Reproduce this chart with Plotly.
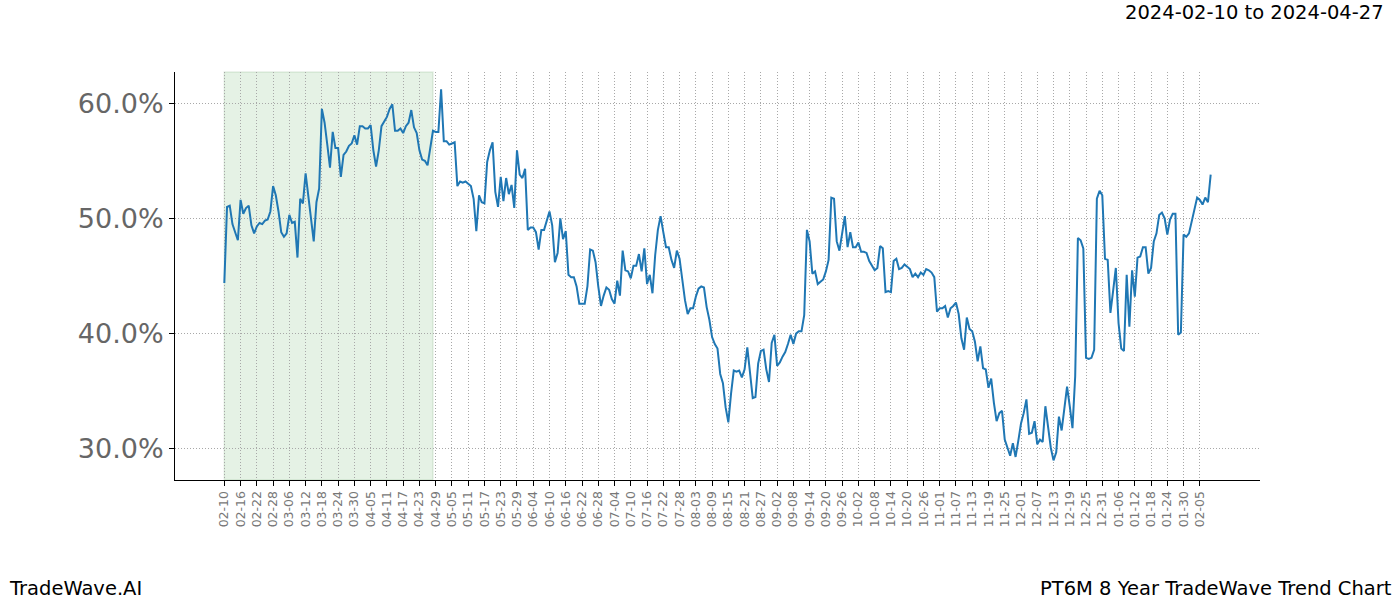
import pandas as pd
import plotly.graph_objects as go

# calendar used by the x axis (non-leap span: 02-28 -> 03-06 in tick labels)
start_date = "2023-02-10"
highlight_start = "2023-02-10"
highlight_end = "2023-04-28"
title_text = "2024-02-10 to 2024-04-27"

values = [
    44.4, 51.0, 51.1, 49.5, 48.8, 48.1, 51.6, 50.4, 50.9, 51.1,
    49.4, 48.7, 49.3, 49.6, 49.5, 49.8, 49.9, 50.6, 52.8, 52.0,
    50.6, 48.8, 48.4, 48.7, 50.3, 49.6, 49.7, 46.6, 51.7, 51.3,
    53.9, 51.9, 49.9, 48.0, 51.4, 52.6, 59.5, 58.3, 56.4, 54.4,
    57.5, 56.1, 56.1, 53.6, 55.5, 55.8, 56.3, 56.5, 57.2, 56.4,
    58.0, 58.0, 57.8, 57.8, 58.1, 55.9, 54.5, 55.9, 58.0, 58.4,
    58.8, 59.5, 59.9, 57.6, 57.6, 57.8, 57.4, 58.0, 58.3, 59.4,
    57.9, 57.4, 55.9, 55.1, 55.0, 54.6, 56.2, 57.6, 57.5, 57.5,
    61.2, 56.7, 56.7, 56.4, 56.5, 56.6, 52.8, 53.2, 53.1, 53.2,
    53.0, 52.8, 51.7, 48.9, 52.0, 51.4, 51.3, 54.9, 55.9, 56.6,
    52.3, 51.0, 53.6, 51.5, 53.5, 52.1, 52.9, 50.9, 55.9, 53.8,
    53.5, 54.3, 49.0, 49.2, 49.2, 48.8, 47.3, 49.0, 49.0, 49.9,
    50.6, 49.4, 46.2, 47.0, 50.0, 48.2, 48.9, 45.1, 44.9, 44.9,
    44.1, 42.6, 42.6, 42.6, 44.1, 47.3, 47.2, 46.2, 44.1, 42.4,
    43.3, 44.0, 43.8, 43.0, 42.6, 44.6, 43.3, 47.2, 45.5, 45.4,
    44.8, 45.9, 45.9, 46.9, 45.4, 47.4, 44.3, 45.1, 43.5, 46.8,
    49.0, 50.2, 48.8, 47.5, 47.5, 46.4, 45.7, 47.2, 46.5, 44.6,
    42.9, 41.7, 42.2, 42.2, 43.2, 43.9, 44.1, 44.0, 42.3, 41.2,
    39.7, 39.1, 38.7, 36.5, 35.7, 33.6, 32.3, 34.8, 36.8, 36.7,
    36.8, 36.2, 36.9, 38.8, 36.5, 34.4, 34.5, 37.4, 38.5, 38.6,
    36.9, 35.8, 39.2, 39.9, 37.2, 37.5, 38.0, 38.4, 39.1, 39.9,
    39.1, 40.0, 40.2, 40.2, 41.6, 49.0, 48.0, 45.2, 45.4, 44.3,
    44.5, 44.7, 45.4, 46.4, 51.8, 51.7, 48.0, 47.2, 48.7, 50.2,
    47.5, 48.8, 47.5, 47.5, 47.9, 47.1, 47.1, 47.0, 46.3, 45.9,
    45.5, 45.7, 47.6, 47.4, 43.6, 43.7, 43.6, 46.3, 46.5, 45.6,
    45.7, 46.0, 45.8, 45.6, 44.9, 45.2, 44.9, 45.3, 45.1, 45.6,
    45.5, 45.3, 44.9, 41.9, 42.2, 42.2, 42.4, 41.4, 42.2, 42.4,
    42.7, 41.7, 39.6, 38.6, 41.4, 40.4, 40.2, 39.3, 37.6, 38.9,
    37.0, 36.9, 35.3, 36.1, 34.0, 32.4, 33.1, 33.3, 30.8, 30.0,
    29.4, 30.5, 29.3, 30.7, 32.2, 33.1, 34.3, 31.3, 31.4, 32.4,
    30.4, 30.8, 30.6, 33.7, 32.0, 30.1, 29.0, 29.7, 32.8, 31.6,
    33.5, 35.4, 33.7, 31.8, 36.3, 48.3, 48.1, 47.4, 37.9, 37.8,
    37.9, 38.6, 51.7, 52.4, 52.0, 46.5, 46.4, 41.8, 43.7, 45.7,
    40.9, 38.7, 38.5, 45.1, 40.6, 45.5, 43.2, 46.6, 46.7, 47.5,
    47.5, 45.2, 45.7, 48.0, 48.7, 50.3, 50.5, 50.0, 48.6, 49.9,
    50.4, 50.4, 39.9, 40.1, 48.6, 48.4, 48.7, 49.7, 50.8, 51.8,
    51.6, 51.2, 51.8, 51.4, 53.8,
]

y_ticks = [30, 40, 50, 60]

dates = pd.date_range(start_date, periods=len(values), freq="D")
tick_dates = pd.date_range(start_date, dates[-1], freq="6D")
tick_text = [d.strftime("%m-%d") for d in tick_dates]

pad = (dates[-1] - dates[0]) * 0.05
x_range = [dates[0] - pad, dates[-1] + pad]

W, H = 1400, 600
L, R, T, B = 175, 1260, 72, 480
pw, ph = R - L, B - T

fig = go.Figure()
fig.add_vrect(x0=highlight_start, x1=highlight_end, fillcolor="rgba(0,128,0,0.1)",
              line=dict(color="rgba(0,100,0,0.10)", width=1.5), layer="below")
fig.add_trace(go.Scatter(x=dates, y=values, mode="lines",
                         line=dict(color="#1f77b4", width=2), showlegend=False))

grid = dict(showgrid=True, gridcolor="#a8a8a8", griddash="1px,2px", gridwidth=0.8)

fig.update_layout(
    width=W, height=H,
    margin=dict(l=L, r=W - R, t=T, b=H - B),
    paper_bgcolor="white", plot_bgcolor="white",
    font=dict(family="DejaVu Sans"),
    xaxis=dict(
        range=x_range, tickmode="array", tickvals=tick_dates, ticktext=tick_text,
        tickangle=-90, tickfont=dict(size=12.5, color="#777777"),
        showline=True, linecolor="black", linewidth=1,
        ticks="outside", ticklen=5, tickcolor="black", zeroline=False, **grid,
    ),
    yaxis=dict(
        range=[27.3, 62.7], tickmode="array", tickvals=y_ticks,
        ticktext=[f"{v:.1f}%" for v in y_ticks],
        tickfont=dict(size=27, color="#666666"),
        showline=True, linecolor="black", linewidth=1,
        ticks="outside", ticklen=5, tickcolor="black", zeroline=False, **grid,
    ),
    annotations=[
        dict(text=title_text, xref="paper", yref="paper",
             x=(1386 - L) / pw, y=1 + (T - 12) / ph, xanchor="right", yanchor="middle",
             showarrow=False, font=dict(size=19.5, color="black")),
        dict(text="TradeWave.AI", xref="paper", yref="paper",
             x=(7 - L) / pw, y=-(588 - B) / ph, xanchor="left", yanchor="middle",
             showarrow=False, font=dict(size=19.5, color="black")),
        dict(text="PT6M 8 Year TradeWave Trend Chart", xref="paper", yref="paper",
             x=(1394 - L) / pw, y=-(588 - B) / ph, xanchor="right", yanchor="middle",
             showarrow=False, font=dict(size=19.5, color="black")),
    ],
)

fig.write_html("out.html", config={"displayModeBar": False},
               post_script="document.body.style.margin='0px';document.body.style.overflow='hidden';")
